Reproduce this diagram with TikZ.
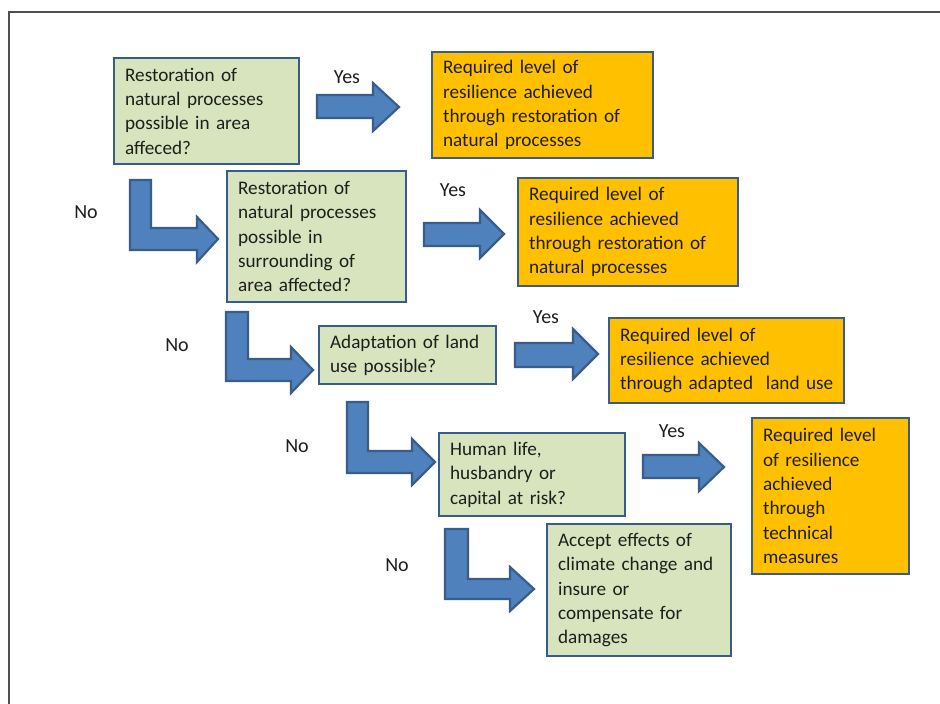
\documentclass[tikz,border=0pt]{standalone}
\usepackage{fontspec}
\setmainfont{Carlito}
\definecolor{boxline}{HTML}{385D8A}
\definecolor{greenfill}{HTML}{D7E4BD}
\definecolor{orangefill}{HTML}{FFC000}
\definecolor{arrowfill}{HTML}{4F81BD}
\definecolor{txt}{HTML}{1E1E1E}
\definecolor{frame}{HTML}{505050}
\tikzset{
  basebox/.style={draw=boxline, line width=2.2pt, anchor=north west, align=left,
    inner xsep=11pt, inner ysep=0pt, text=txt,
    font=\fontsize{19.2}{24.3}\selectfont},
  gbox/.style={basebox, fill=greenfill},
  obox/.style={basebox, fill=orangefill},
  blockarrow/.style={fill=arrowfill, draw=boxline, line width=2.2pt, line join=miter},
  lbl/.style={anchor=base, text=txt, font=\fontsize{20}{24}\selectfont, inner sep=0pt}
}
\newcommand{\mybox}[7]{% style, name, x1, y1, x2, y2, text
  \pgfmathsetmacro{\bh}{#6-#4}\pgfmathsetmacro{\tw}{#5-#3-22}
  \node[#1, text width=\tw pt, minimum height=\bh pt] (#2) at (#3,#4) {#7};}
\begin{document}
\begin{tikzpicture}[x=1pt,y=-1pt]
\useasboundingbox (0,0) rectangle (940,704);
\fill[white] (0,0) rectangle (940,704);
% frame
\draw[frame, line width=1.8pt] (9,704) -- (9,12) -- (940,12);

% boxes
\mybox{gbox}{q1}{113}{57}{298}{163}{Restoration of\\natural processes\\possible in area\\affeced?}
\mybox{obox}{r1}{431}{51}{652}{157}{Required level of\\resilience achieved\\through restoration of\\natural processes}
\mybox{gbox}{q2}{226}{170}{405}{301}{Restoration of\\natural processes\\possible in\\surrounding of\\area affected?}
\mybox{obox}{r2}{517}{177}{737}{285}{Required level of\\resilience achieved\\through restoration of\\natural processes}
\mybox{gbox}{q3}{318}{325}{495}{383}{Adaptation of land\\use possible?}
\mybox{obox}{r3}{608}{317}{843}{402}{Required level of\\resilience achieved\\\mbox{through adapted\ \ land use}}
\mybox{gbox}{q4}{438}{432}{624}{515}{Human life,\\husbandry or\\capital at risk?}
\mybox{obox}{r4}{751}{417}{908}{573}{Required level\\of resilience\\achieved\\through\\technical\\measures}
\mybox{gbox}{q5}{546}{523}{730}{655}{Accept effects of\\climate change and\\insure or\\compensate for\\damages}

% Yes arrows
\draw[blockarrow] (317,95) -- (373,95) -- (373,83) -- (399,107) -- (373,131) -- (373,118) -- (317,118) -- cycle;
\draw[blockarrow] (424,223) -- (480,223) -- (480,210) -- (504,234) -- (480,258) -- (480,246) -- (424,246) -- cycle;
\draw[blockarrow] (515,343) -- (573,343) -- (573,329) -- (598,354) -- (573,379) -- (573,367) -- (515,367) -- cycle;
\draw[blockarrow] (643,455) -- (699,455) -- (699,443) -- (724,467) -- (699,491) -- (699,478) -- (643,478) -- cycle;

% No (L-shaped) arrows
\draw[blockarrow] (130,180) -- (151,180) -- (151,228) -- (197,228) -- (197,217) -- (218,239) -- (197,262) -- (197,250) -- (130,250) -- cycle;
\draw[blockarrow] (226,312) -- (248,312) -- (248,359) -- (291,359) -- (291,347) -- (313,370) -- (291,393) -- (291,381) -- (226,381) -- cycle;
\draw[blockarrow] (347,402) -- (368,402) -- (368,451) -- (412,451) -- (412,439) -- (435,462) -- (412,485) -- (412,473) -- (347,473) -- cycle;
\draw[blockarrow] (445,529) -- (468,529) -- (468,579) -- (510,579) -- (510,567) -- (534,589) -- (510,611) -- (510,599) -- (445,599) -- cycle;

% labels
\node[lbl] (y1) at (347,83) {Yes};
\node[lbl] (y2) at (453,196) {Yes};
\node[lbl] (y3) at (546,323) {Yes};
\node[lbl] (y4) at (672,437) {Yes};
\node[lbl] (n1) at (86,218) {No};
\node[lbl] (n2) at (177,351) {No};
\node[lbl] (n3) at (297,452) {No};
\node[lbl] (n4) at (397,571) {No};
\end{tikzpicture}
\end{document}
